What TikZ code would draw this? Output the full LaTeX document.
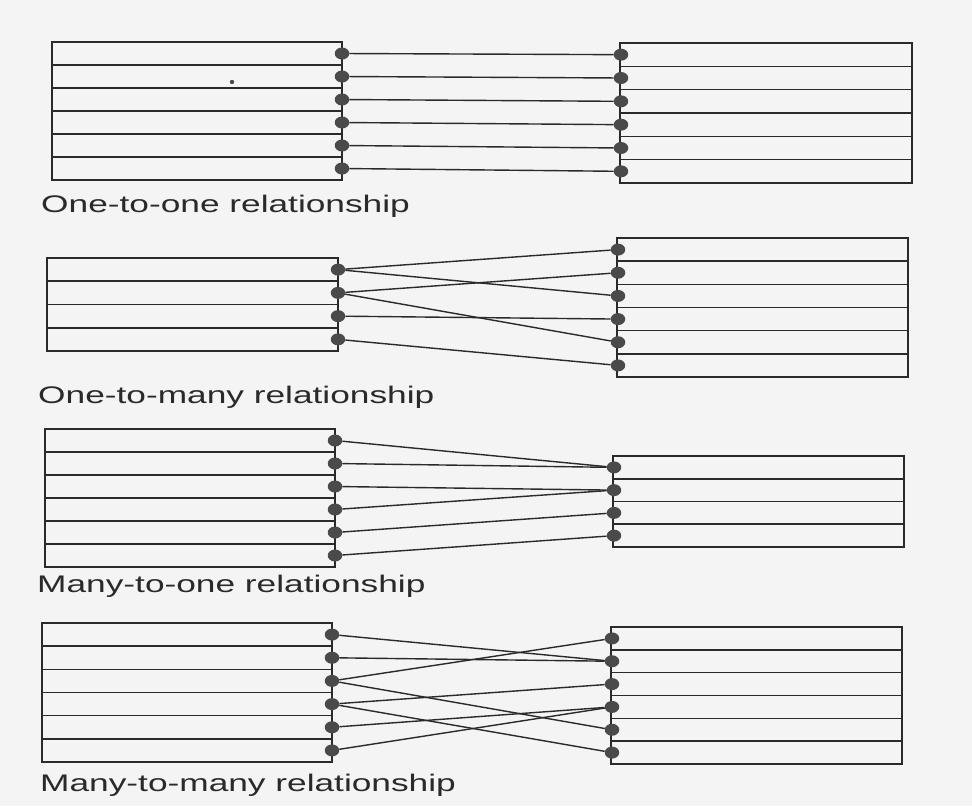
\documentclass[tikz,border=0pt]{standalone}
\usepackage{fontspec}
\setmainfont{Liberation Sans}
\usetikzlibrary{shapes.geometric}
\definecolor{paper}{HTML}{F4F4F4}
\definecolor{ink}{HTML}{2A2A2A}
\definecolor{dotink}{HTML}{4A4A4A}

% one table: name, left, top, right, bottom, rows, x of the key dots
\newcommand{\drawtable}[7]{%
  \draw[tableline] (#2,#3) rectangle (#4,#5);
  \foreach \k in {2,...,#6}{%
    \pgfmathsetmacro\yrow{#3+(\k-1)*(#5-#3)/#6}
    \draw[rowline] (#2,\yrow) -- (#4,\yrow);
  }
  \foreach \k in {1,...,#6}{%
    \pgfmathsetmacro\ykey{#3+(\k-0.5)*(#5-#3)/#6}
    \node[keydot] (#1\k) at (#7,\ykey) {};
  }
}

\begin{document}
\begin{tikzpicture}[x=1pt,y=-1pt,
  tableline/.style={draw=ink,line width=1.9pt},
  rowline/.style={draw=ink,line width=1.6pt},
  link/.style={draw=ink,line width=1.4pt},
  keydot/.style={ellipse,fill=dotink,draw=none,minimum width=14.5pt,minimum height=12pt,inner sep=0pt},
  caption/.style={anchor=base west,inner sep=0pt,text=ink,font=\fontsize{24}{28}\selectfont}]

\fill[paper] (0,0) rectangle (972,806);
\useasboundingbox (0,0) rectangle (972,806);

% one-to-one
\drawtable{aL}{52}{42}{342}{180}{6}{342}
\drawtable{aR}{620}{43}{912}{183}{6}{621}
\foreach \k in {1,...,6}{\draw[link] (aL\k) -- (aR\k);}
\fill[dotink] (232,82) circle (2.2);
\node[caption] (capA) at (41,212) {\scalebox{1.47}[1]{One-to-one relationship}};

% one-to-many
\drawtable{bL}{47}{258}{338}{351}{4}{338}
\drawtable{bR}{617}{238}{908}{377}{6}{618}
\draw[link] (bL1) -- (bR1);
\draw[link] (bL1) -- (bR3);
\draw[link] (bL2) -- (bR2);
\draw[link] (bL2) -- (bR5);
\draw[link] (bL3) -- (bR4);
\draw[link] (bL4) -- (bR6);
\node[caption] (capB) at (38,403) {\scalebox{1.47}[1]{One-to-many relationship}};

% many-to-one
\drawtable{cL}{45}{429}{335}{567}{6}{335}
\drawtable{cR}{613}{456}{904}{547}{4}{614}
\draw[link] (cL1) -- (cR1);
\draw[link] (cL2) -- (cR1);
\draw[link] (cL3) -- (cR2);
\draw[link] (cL4) -- (cR2);
\draw[link] (cL5) -- (cR3);
\draw[link] (cL6) -- (cR4);
\node[caption] (capC) at (37,592) {\scalebox{1.47}[1]{Many-to-one relationship}};

% many-to-many
\drawtable{dL}{42}{623}{332}{762}{6}{332}
\drawtable{dR}{611}{627}{902}{764}{6}{612}
\draw[link] (dL1) -- (dR2);
\draw[link] (dL2) -- (dR2);
\draw[link] (dL3) -- (dR1);
\draw[link] (dL3) -- (dR5);
\draw[link] (dL4) -- (dR3);
\draw[link] (dL4) -- (dR6);
\draw[link] (dL5) -- (dR4);
\draw[link] (dL6) -- (dR4);
\node[caption] (capD) at (40,791) {\scalebox{1.47}[1]{Many-to-many relationship}};

\end{tikzpicture}
\end{document}
